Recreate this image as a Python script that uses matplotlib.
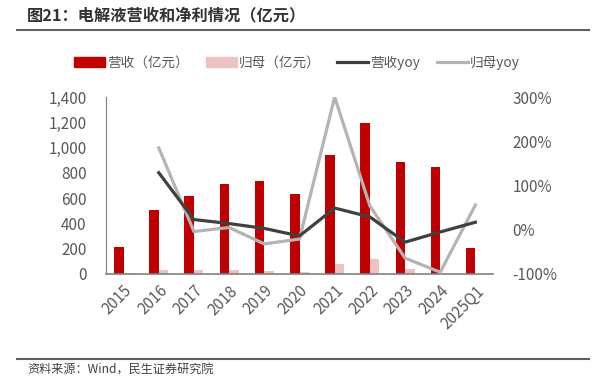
import numpy as np
import matplotlib
matplotlib.use('Agg')
import matplotlib.pyplot as plt
from matplotlib.lines import Line2D
from matplotlib.ticker import FuncFormatter

plt.rcParams['font.family'] = ['Noto Sans CJK SC', 'DejaVu Sans']

# %% data
years = ['2015', '2016', '2017', '2018', '2019', '2020', '2021', '2022', '2023', '2024', '2025Q1']
revenue = [216, 504, 619, 709, 733, 633, 944, 1197, 888, 849, 203]
profit = [5, 32, 30, 32, 22, 15, 77, 119, 40, 3, 2]
revenue_yoy = [None, 129, 23, 14, 3, -14, 49, 29, -28, -5, 17]
profit_yoy = [None, 185, -4, 5, -32, -21, 300, 54, -64, -96, 56]

red = '#C00000'
pink = '#EBC3C3'
dark = '#404040'
light = '#B4B4B4'
txt = '#595959'

# %% plot
fig = plt.figure(figsize=(6.04, 3.82), dpi=100)
ax = fig.add_axes([106 / 604, 1 - 274 / 382, (493 - 106) / 604, (274 - 97) / 382])
ax2 = ax.twinx()

x = np.arange(len(years))
w = 0.27
ax.bar(x - w / 2, revenue, w, color=red, zorder=2)
ax.bar(x + w / 2, profit, w, color=pink, zorder=2)

ry = np.array([np.nan if v is None else v for v in revenue_yoy], dtype=float)
py = np.array([np.nan if v is None else v for v in profit_yoy], dtype=float)
ax2.plot(x, py, color=light, lw=2.3, zorder=3)
ax2.plot(x, ry, color=dark, lw=2.3, zorder=4)

ax.set_xlim(-0.5, len(years) - 0.5)
ax.set_ylim(0, 1400)
ax.set_yticks(range(0, 1401, 200))
ax.yaxis.set_major_formatter(FuncFormatter(lambda v, p: f'{int(v):,}'))
ax2.set_ylim(-100, 300)
ax2.set_yticks(range(-100, 301, 100))
ax2.yaxis.set_major_formatter(FuncFormatter(lambda v, p: f'{int(v)}%'))

ax.set_xticks(x)
ax.set_xticklabels(years, rotation=45, ha='right', rotation_mode='anchor')

for a in (ax, ax2):
    for s in ('top', 'right', 'left', 'bottom'):
        a.spines[s].set_visible(False)
    a.tick_params(length=0, labelsize=11, labelcolor=txt)
ax.spines['left'].set_visible(True)
ax.spines['left'].set_color('#808080')
ax.spines['bottom'].set_visible(True)
ax.spines['bottom'].set_color('#808080')
ax.spines['bottom'].set_linewidth(1.2)
ax.tick_params(axis='y', pad=14)
ax.tick_params(axis='x', pad=6)
ax2.tick_params(axis='y', pad=14)

handles = [
    plt.Rectangle((0, 0), 1, 1, color=red),
    plt.Rectangle((0, 0), 1, 1, color=pink),
    Line2D([0], [0], color=dark, lw=2.3),
    Line2D([0], [0], color=light, lw=2.3),
]
labels = ['营收（亿元）', '归母（亿元）', '营收yoy', '归母yoy']
fig.legend(handles, labels, loc='center', bbox_to_anchor=(297 / 604, 1 - 63 / 382), ncol=4,
           frameon=False, fontsize=9.8, labelcolor=txt, handlelength=2.3, handleheight=0.75,
           handletextpad=0.15, columnspacing=1.2)

fig.text(27 / 604, 1 - 15 / 382, '图21：电解液营收和净利情况（亿元）', fontsize=11.7,
         fontweight='bold', color='#333333', va='center')
fig.add_artist(Line2D([17 / 604, 589 / 604], [1 - 30 / 382] * 2, color='#606060', lw=1.5))
fig.add_artist(Line2D([17 / 604, 589 / 604], [1 - 358.5 / 382] * 2, color='#606060', lw=1.5))
fig.text(27 / 604, 1 - 370 / 382, '资料来源：Wind，民生证券研究院', fontsize=8.7,
         color='#404040', va='center')

fig.savefig('out.png', dpi=100)
